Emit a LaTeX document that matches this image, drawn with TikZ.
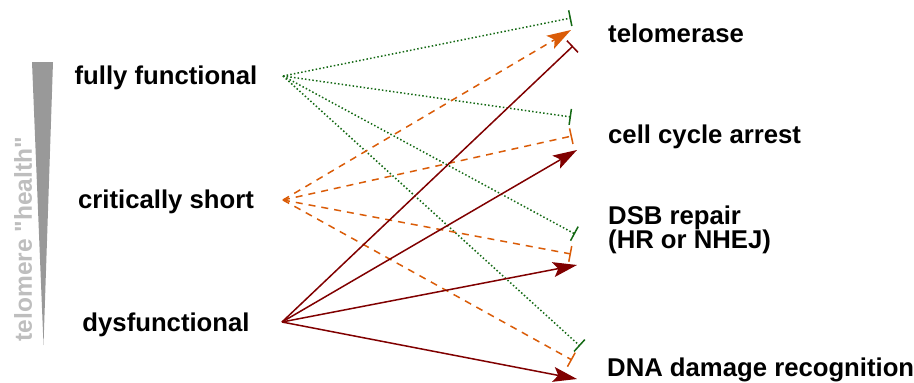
\documentclass[tikz,border=0pt]{standalone}
\usepackage{fontspec}
\setmainfont{Liberation Sans}
\newfontfamily\axisfont{Liberation Sans}[Ligatures=TeXOff]
\usetikzlibrary{arrows.meta}
\definecolor{inhgreen}{RGB}{20,105,20}
\definecolor{shortorange}{RGB}{218,92,8}
\definecolor{dysred}{RGB}{128,0,0}
\definecolor{wedgegray}{RGB}{153,153,153}
\definecolor{axisgray}{RGB}{190,190,190}
\tikzset{
  state/.style={font=\bfseries\fontsize{25.7}{28}\selectfont, inner sep=0pt, anchor=base},
  outcome/.style={font=\bfseries\fontsize{25.7}{24}\selectfont, inner sep=0pt, anchor=base west, align=left},
  fromfull/.style={draw=inhgreen, line width=1.5pt, dash pattern=on 1.5pt off 2.2pt,
    -{Bar[width=16pt,line width=1.5pt]}},
  fromshortblock/.style={draw=shortorange, line width=1.5pt, dash pattern=on 7pt off 6pt,
    -{Bar[width=16pt,line width=1.5pt]}},
  fromshortact/.style={draw=shortorange, line width=1.5pt, dash pattern=on 7pt off 6pt,
    -{Stealth[length=24pt,width=15pt,inset=5pt]}},
  fromdysblock/.style={draw=dysred, line width=1.5pt, -{Bar[width=16pt,line width=1.5pt]}},
  fromdysact/.style={draw=dysred, line width=1.5pt, -{Stealth[length=24pt,width=15pt,inset=5pt]}},
}
\begin{document}
\begin{tikzpicture}[x=1pt,y=-1pt]
\useasboundingbox (0,0) rectangle (914,383);

% telomere health scale
\fill[wedgegray] (32,62) -- (53,62) -- (43.5,345) -- cycle;
\node[rotate=90, text=axisgray, font=\axisfont\bfseries\fontsize{24.5}{28}\selectfont, inner sep=0pt]
  (axis) at (23,239) {telomere "health"};

% telomere states
\node[state] (full) at (166,84) {fully functional};
\node[state] (short) at (166,208) {critically short};
\node[state] (dys) at (166,331) {dysfunctional};

% cellular responses
\node[outcome] (telo) at (608,42) {telomerase};
\node[outcome] (arrest) at (608,143) {cell cycle arrest};
\node[outcome] (dsb) at (608,248) {DSB repair\\(HR or NHEJ)};
\node[outcome] (recog) at (607,376) {DNA damage recognition};

% connector origins
\coordinate (sF) at (283,76);
\coordinate (sS) at (283,200);
\coordinate (sD) at (282,322);

% connector ends
\coordinate (fT) at (571,18);
\coordinate (fA) at (571,117);
\coordinate (fB) at (575,234);
\coordinate (fR) at (580,346);
\coordinate (oT) at (571,30);
\coordinate (oA) at (572,136);
\coordinate (oB) at (571,254);
\coordinate (oR) at (572,360);
\coordinate (dT) at (573,46);
\coordinate (dA) at (577,150);
\coordinate (dB) at (577,265);
\coordinate (dR) at (577,379);

% fully functional telomeres
\draw[fromfull] (sF) -- (fT);
\draw[fromfull] (sF) -- (fA);
\draw[fromfull] (sF) -- (fB);
\draw[fromfull] (sF) -- (fR);

% critically short telomeres
\draw[fromshortact] (sS) -- (oT);
\draw[fromshortblock] (sS) -- (oA);
\draw[fromshortblock] (sS) -- (oB);
\draw[fromshortblock] (sS) -- (oR);

% dysfunctional telomeres
\draw[fromdysblock] (sD) -- (dT);
\draw[fromdysact] (sD) -- (dA);
\draw[fromdysact] (sD) -- (dB);
\draw[fromdysact] (sD) -- (dR);
\end{tikzpicture}
\end{document}
